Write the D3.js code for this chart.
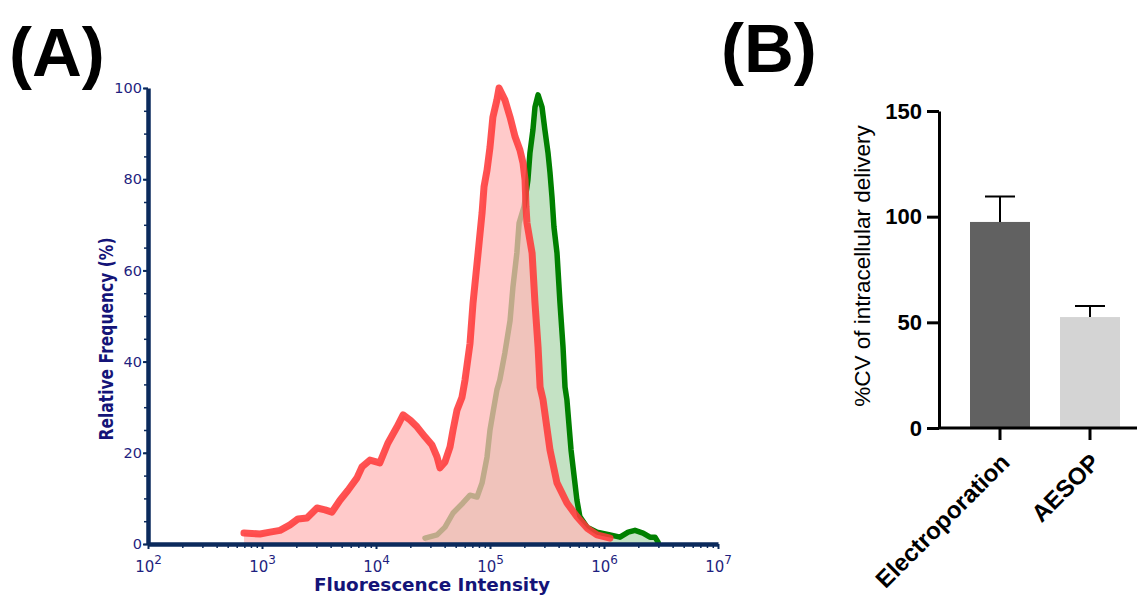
<!DOCTYPE html>
<html>
<head>
<meta charset="utf-8">
<script src="https://cdn.jsdelivr.net/npm/d3@7"></script>
<style>
  body { margin: 0; background: #fff; }
  svg { display: block; }
</style>
</head>
<body>
<div id="chart"></div>
<script>
// histogram data (intensity, relative frequency %)
const redIntensity = [695, 960, 1175, 1440, 1760, 2070, 2480, 3040, 3570, 4110, 4830, 5680, 6810, 7530, 8850,
  10800, 12700, 15300, 17300, 19900, 22900, 26900, 31000, 34300, 36400, 40300, 44600, 47400, 51400, 56800,
  60400, 66800, 71000, 78600, 85200, 88600, 94200, 100000, 106000, 115000, 120000, 135000, 150000, 166000,
  183000, 195000, 203000, 207000, 211000, 234000, 248000, 264000, 275000, 292000, 336000, 387000, 473000,
  579000, 709000, 868000, 1130000];
const redFreq = [2.4, 2.2, 2.6, 3, 4.2, 5.5, 5.7, 7.9, 7.5, 7, 9.6, 11.8, 14.5, 16.9, 18.4,
  17.8, 22.1, 25.7, 28.3, 27.2, 25.7, 23.5, 21.7, 19.1, 16.7, 18, 21.3, 25, 29.4, 32.2,
  36, 44, 52.9, 63.8, 72.6, 78.3, 82, 87, 93.6, 97.4, 100, 97.4, 93.6, 89.3,
  86.4, 83.5, 79.8, 73.9, 70.4, 63.8, 52.9, 43.2, 34.4, 31.6, 20.6, 13.4, 9,
  6, 3.5, 2, 1.3];

const greenIntensity = [26900, 34300, 40300, 47400, 57900, 66800, 77000, 85200, 94200, 100000, 106000, 115000,
  122000, 135000, 150000, 159000, 172000, 180000, 199000, 215000, 224000, 238000, 248000, 264000, 286000,
  303000, 323000, 336000, 350000, 364000, 387000, 411000, 437000, 455000, 473000, 514000, 579000, 614000,
  709000, 868000, 1130000, 1380000, 1630000, 1870000, 2200000, 2530000, 2800000, 2980000];
const greenFreq = [1.3, 2, 3.7, 6.8, 9, 10.7, 10.3, 13.4, 19.1, 25, 28.7, 33.8,
  36, 41.9, 49, 56.4, 63.8, 70.4, 74, 79.8, 85.7, 90.8, 95.8, 98.5, 95.8,
  90.8, 85.7, 81.4, 76, 69.5, 63.8, 52.9, 43.2, 34.4, 31.6, 20.6, 9.6, 6,
  3.7, 2.6, 2, 1.5, 2.6, 3, 2.4, 1.5, 1.5, 0.4];

const freqTicks = [0, 20, 40, 60, 80, 100];
const decadeTicks = [1e2, 1e3, 1e4, 1e5, 1e6, 1e7];

// bar chart data
const groups = ["Electroporation", "AESOP"];
const cvMean = [97.5, 52.5];
const cvError = [12, 5.2];
const cvTicks = [0, 50, 100, 150];

const svg = d3.select("#chart").append("svg")
    .attr("width", 1142)
    .attr("height", 595);

const navy = "#0b2a5c";
const labelBlue = "#1f1f80";

// panel labels
svg.append("text").attr("x", 9).attr("y", 76)
    .style("font", "bold 69px 'Liberation Sans', Arial, sans-serif").text("(A)");
svg.append("text").attr("x", 721).attr("y", 72)
    .style("font", "bold 69px 'Liberation Sans', Arial, sans-serif").text("(B)");

// ---------- panel A: histogram ----------
const x = d3.scaleLog().domain([1e2, 1e7]).range([148, 718]);
const y = d3.scaleLinear().domain([0, 100]).range([544, 88]);

const area = d3.area().x(d => x(d[0])).y0(y(0)).y1(d => y(d[1]));
const line = d3.line().x(d => x(d[0])).y(d => y(d[1]));

const green = greenIntensity.map((v, i) => [v, greenFreq[i]]);
const red = redIntensity.map((v, i) => [v, redFreq[i]]);

const histo = svg.append("g");
histo.append("path").datum(green).attr("d", area)
    .attr("fill", "#c4e2c4");
histo.append("path").datum(green).attr("d", line)
    .attr("fill", "none").attr("stroke", "#008000").attr("stroke-width", 5.5)
    .attr("stroke-linejoin", "round").attr("stroke-linecap", "round");
histo.append("path").datum(red).attr("d", area)
    .attr("fill", "#ffb8b8").attr("opacity", 0.75);
histo.append("path").datum(red).attr("d", line)
    .attr("fill", "none").attr("stroke", "#ff3a3a").attr("stroke-width", 7).attr("opacity", 0.88)
    .attr("stroke-linejoin", "round").attr("stroke-linecap", "round");

// minor ticks
const minorX = [];
for (let e = 2; e < 7; e++) for (let m = 2; m < 10; m++) minorX.push(m * Math.pow(10, e));
const minorY = d3.range(0, 101, 5);

svg.append("g").attr("transform", "translate(0,544)")
    .call(d3.axisBottom(x).tickValues(minorX).tickSize(4).tickFormat(""))
    .call(g => g.select(".domain").remove())
    .call(g => g.selectAll("line").attr("stroke", navy).attr("stroke-width", 1.5));
svg.append("g").attr("transform", "translate(148,0)")
    .call(d3.axisLeft(y).tickValues(minorY).tickSize(4).tickFormat(""))
    .call(g => g.select(".domain").remove())
    .call(g => g.selectAll("line").attr("stroke", navy).attr("stroke-width", 1.5));

const xAxis = svg.append("g").attr("transform", "translate(0,544)")
    .call(d3.axisBottom(x).tickValues(decadeTicks).tickSize(5).tickSizeOuter(0).tickFormat(""));
xAxis.select(".domain").attr("stroke", navy).attr("stroke-width", 4.5);
xAxis.selectAll("line").attr("stroke", navy).attr("stroke-width", 2);
xAxis.selectAll(".tick").append("text")
    .attr("y", 28).attr("fill", labelBlue)
    .style("font", "15px 'DejaVu Sans', Verdana, sans-serif")
    .attr("text-anchor", "middle")
    .each(function(d) {
      const t = d3.select(this);
      t.append("tspan").text("10");
      t.append("tspan").attr("dy", -8).style("font-size", "12px").text(Math.round(Math.log10(d)));
    });

const yAxis = svg.append("g").attr("transform", "translate(148,0)")
    .call(d3.axisLeft(y).tickValues(freqTicks).tickSize(5).tickSizeOuter(0));
yAxis.select(".domain").attr("stroke", navy).attr("stroke-width", 4.5);
yAxis.selectAll("line").attr("stroke", navy).attr("stroke-width", 2);
yAxis.selectAll("text").attr("fill", labelBlue).attr("x", -6)
    .style("font", "14.5px 'DejaVu Sans', Verdana, sans-serif");

svg.append("text")
    .attr("transform", "translate(113,339) rotate(-90) scale(1,1.15)")
    .attr("text-anchor", "middle").attr("fill", "#141478")
    .attr("textLength", 203).attr("lengthAdjust", "spacingAndGlyphs")
    .style("font", "bold 16.5px 'DejaVu Sans', Verdana, sans-serif")
    .text("Relative Frequency (%)");
svg.append("text")
    .attr("x", 432).attr("y", 591)
    .attr("text-anchor", "middle").attr("fill", "#141478")
    .attr("textLength", 236).attr("lengthAdjust", "spacingAndGlyphs")
    .style("font", "bold 17.5px 'DejaVu Sans', Verdana, sans-serif")
    .text("Fluorescence Intensity");

// ---------- panel B: bars ----------
const xb = d3.scaleBand().domain(groups).range([955, 1135]).paddingInner(1 / 3).paddingOuter(1 / 6);
const yb = d3.scaleLinear().domain([0, 150]).range([428, 111]);

const bars = svg.append("g");
const barColor = ["#616161", "#d4d4d4"];
bars.selectAll("rect").data(groups).join("rect")
    .attr("x", d => xb(d)).attr("width", xb.bandwidth())
    .attr("y", (d, i) => yb(cvMean[i]))
    .attr("height", (d, i) => yb(0) - yb(cvMean[i]))
    .attr("fill", (d, i) => barColor[i]);

bars.selectAll(".err").data(groups).join("path")
    .attr("class", "err")
    .attr("d", (d, i) => {
      const cx = xb(d) + xb.bandwidth() / 2;
      const top = yb(cvMean[i] + cvError[i]);
      return `M${cx},${yb(cvMean[i])}V${top}M${cx - 15},${top}H${cx + 15}`;
    })
    .attr("fill", "none").attr("stroke", "#000").attr("stroke-width", 2);

const ybAxis = svg.append("g").attr("transform", "translate(939,0)")
    .call(d3.axisLeft(yb).tickValues(cvTicks).tickSize(12).tickSizeOuter(0));
ybAxis.select(".domain").attr("stroke-width", 3);
ybAxis.selectAll("line").attr("stroke-width", 3);
ybAxis.selectAll("text").attr("x", -17)
    .style("font", "bold 22px 'Liberation Sans', Arial, sans-serif");

const xbAxis = svg.append("g").attr("transform", "translate(0,428)")
    .call(d3.axisBottom(xb).tickSize(12).tickSizeOuter(0));
xbAxis.select(".domain").attr("d", "M939,0H1137").attr("stroke-width", 3);
xbAxis.selectAll("line").attr("stroke-width", 3);
xbAxis.selectAll("text")
    .attr("x", 0).attr("y", 0).attr("dy", 0)
    .attr("transform", "translate(11,36) rotate(-45)")
    .attr("text-anchor", "end")
    .style("font", "bold 24px 'Liberation Sans', Arial, sans-serif");

svg.append("text")
    .attr("transform", "translate(870,266) rotate(-90)")
    .attr("text-anchor", "middle")
    .style("font", "22.5px 'Liberation Sans', Arial, sans-serif")
    .text("%CV of intracellular delivery");
</script>
</body>
</html>
